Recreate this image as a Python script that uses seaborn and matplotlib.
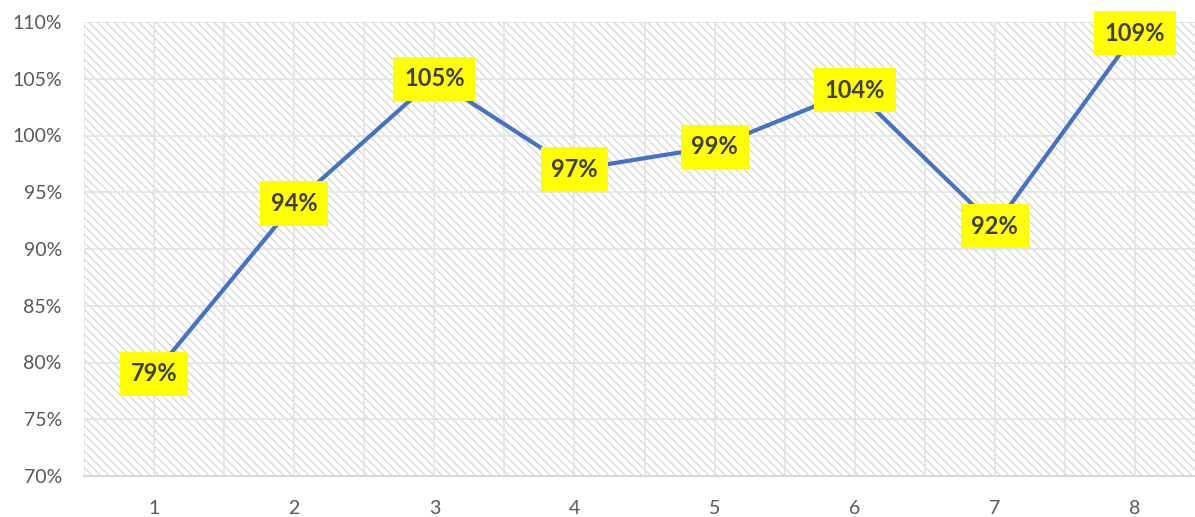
#=====================================================================================================
# Program Name     : RatioLineChart
# Description      : Line chart of percentage values per period with yellow data labels
#                    on a hatched plot area (Excel style).
# Output           : out.png
#=====================================================================================================

import matplotlib
matplotlib.use("Agg")
import matplotlib.pyplot as plt
import seaborn as sns
import pandas as pd
from matplotlib.patches import Rectangle
from matplotlib.ticker import FuncFormatter, MultipleLocator

# chart data
categories = ["1", "2", "3", "4", "5", "6", "7", "8"]
values = [79, 94, 105, 97, 99, 104, 92, 109]
value_labels = ["79%", "94%", "105%", "97%", "99%", "104%", "92%", "109%"]

#-----------------------------------------------------------------------------------------------------
# Function Name    : plot_chart
#-----------------------------------------------------------------------------------------------------
def plot_chart():
    sns.set_style("white")
    plt.rcParams["font.family"] = ["Lato", "DejaVu Sans"]
    plt.rcParams["hatch.linewidth"] = 0.9

    df = pd.DataFrame({"pos": range(1, len(categories) + 1), "value": values})

    fig = plt.figure(figsize=(11.95, 5.17), dpi=100)
    ax = fig.add_axes([84 / 1195, 41 / 517, (1195 - 84) / 1195, (476 - 22) / 517])

    # hatched background of the plot area
    ax.add_patch(Rectangle((0, 0), 1, 1, transform=ax.transAxes, facecolor="white",
                           edgecolor="#d6d6d6", linewidth=0, hatch="\\\\\\\\", zorder=0))

    sns.lineplot(data=df, x="pos", y="value", color="#4472C4", linewidth=3.0, ax=ax, zorder=3)

    # data labels
    for x, y, txt in zip(df["pos"], df["value"], value_labels):
        ax.text(x, y, txt, ha="center", va="center", fontsize=17, fontweight="bold",
                color="#404040", zorder=5,
                bbox=dict(boxstyle="square,pad=0.45", facecolor="#FFFF00", edgecolor="none"))

    ax.set_xlim(0.5, 8 + 60 / 140)
    ax.set_ylim(70, 110)
    ax.set_xticks(list(df["pos"]))
    ax.set_xticklabels(categories)
    ax.xaxis.set_minor_locator(MultipleLocator(0.5))
    ax.yaxis.set_major_locator(MultipleLocator(5))
    ax.yaxis.set_major_formatter(FuncFormatter(lambda v, _: f"{v:.0f}%"))

    ax.grid(True, which="both", color="#e3e3e3", linewidth=1.2, zorder=1)
    ax.set_axisbelow(True)
    ax.tick_params(axis="both", which="both", length=0, labelsize=14, labelcolor="#595959")
    ax.tick_params(axis="y", pad=16)
    ax.tick_params(axis="x", pad=17)
    ax.set_xlabel("")
    ax.set_ylabel("")

    for side in ["top", "right", "left"]:
        ax.spines[side].set_visible(False)
    ax.spines["bottom"].set_color("#d9d9d9")
    ax.spines["bottom"].set_linewidth(1.5)

    fig.savefig("out.png", dpi=100)

#-----------------------------------------------------------------------------------------------------
# Program Execution Starts Here
#-----------------------------------------------------------------------------------------------------
if __name__ == "__main__":
    plot_chart()
